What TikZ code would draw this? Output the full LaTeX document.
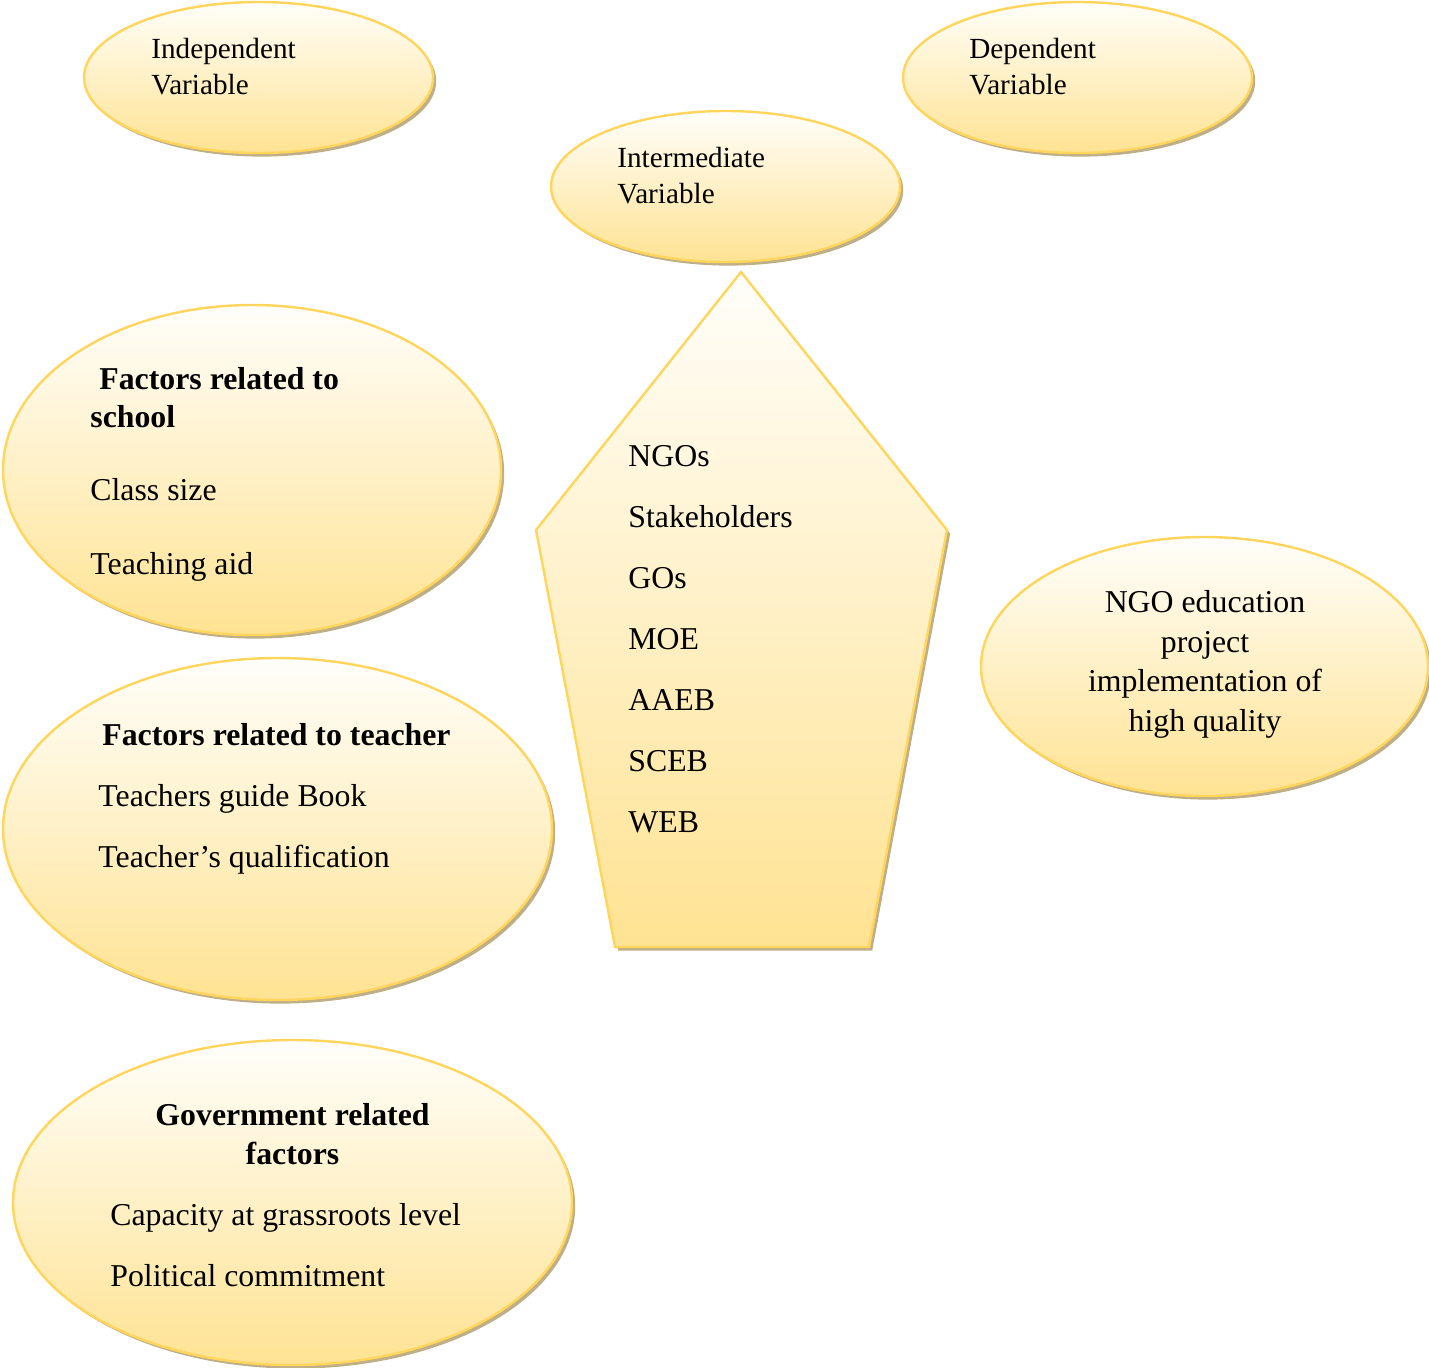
\documentclass[tikz,border=0pt]{standalone}
\usepackage{fontspec}
\setmainfont{Liberation Serif}
\usetikzlibrary{shapes.geometric,shadows}
\definecolor{edgegold}{HTML}{FFD55C}
\definecolor{filltop}{HTML}{FFFEFA}
\definecolor{fillbot}{HTML}{FFE393}
\definecolor{shadowtan}{HTML}{BFAF86}
\tikzset{
  softshadow/.style={drop shadow={shadow xshift=1.6pt, shadow yshift=-1.8pt, fill=shadowtan, opacity=1}},
  goldshape/.style={draw=edgegold, line width=1.2pt, top color=filltop, bottom color=fillbot, softshadow},
  goldoval/.style={goldshape, ellipse, inner sep=0pt},
  small/.style={font=\fontsize{14.6}{17}\selectfont, inner sep=0pt},
  big/.style={font=\fontsize{15.9}{19}\selectfont, inner sep=0pt},
  bigb/.style={font=\fontsize{15.9}{19}\selectfont\bfseries, inner sep=0pt},
}
\begin{document}
\begin{tikzpicture}[x=0.5pt,y=-0.5pt]
\useasboundingbox (0,0) rectangle (1429,1367);
% ovals
\node[goldoval, minimum width=174.5pt, minimum height=75.5pt] (indep) at (258.5,77.5) {};
\node[goldoval, minimum width=174.5pt, minimum height=75.5pt] (dep) at (1077.5,77.5) {};
\node[goldoval, minimum width=174.5pt, minimum height=75.5pt] (inter) at (725.5,186.5) {};
\node[goldoval, minimum width=249pt, minimum height=165pt] (school) at (252,470) {};
\node[goldoval, minimum width=274.5pt, minimum height=171pt] (teacher) at (277.5,829) {};
\node[goldoval, minimum width=279.5pt, minimum height=162.5pt] (gov) at (292.5,1202.5) {};
\node[goldoval, minimum width=223.5pt, minimum height=129.5pt] (ngo) at (1204.5,666.5) {};
% pentagon
\coordinate (pt) at (741,272);
\coordinate (pl) at (536,530);
\coordinate (pbl) at (615,947);
\coordinate (pbr) at (869,947);
\coordinate (pr) at (947,530);
\path[goldshape, line join=miter] (pt) -- (pr) -- (pbr) -- (pbl) -- (pl) -- cycle;
% texts
\node[small, anchor=base west] (indep1) at (151,58) {Independent};
\node[small, anchor=base west] (indep2) at (151,94) {Variable};
\node[small, anchor=base west] (dep1) at (969,58) {Dependent};
\node[small, anchor=base west] (dep2) at (969,94) {Variable};
\node[small, anchor=base west] (inter1) at (617,167) {Intermediate};
\node[small, anchor=base west] (inter2) at (617,203) {Variable};
\node[bigb, anchor=base west] (sch1) at (99,389) {Factors related to};
\node[bigb, anchor=base west] (sch2) at (90,427) {school};
\node[big, anchor=base west] (sch3) at (90,500) {Class size};
\node[big, anchor=base west] (sch4) at (90,574) {Teaching aid};
\node[bigb, anchor=base west] (tea1) at (102,745) {Factors related to teacher};
\node[big, anchor=base west] (tea2) at (98,806) {Teachers guide Book};
\node[big, anchor=base west] (tea3) at (98,867) {Teacher’s qualification};
\node[bigb, anchor=base] (gov1) at (292.5,1125) {Government related};
\node[bigb, anchor=base] (gov2) at (292.5,1164) {factors};
\node[big, anchor=base west] (gov3) at (110,1225) {Capacity at grassroots level};
\node[big, anchor=base west] (gov4) at (110,1286) {Political commitment};
\node[big, anchor=base west] (p1) at (628,466) {NGOs};
\node[big, anchor=base west] (p2) at (628,527) {Stakeholders};
\node[big, anchor=base west] (p3) at (628,588) {GOs};
\node[big, anchor=base west] (p4) at (628,649) {MOE};
\node[big, anchor=base west] (p5) at (628,710) {AAEB};
\node[big, anchor=base west] (p6) at (628,771) {SCEB};
\node[big, anchor=base west] (p7) at (628,832) {WEB};
\node[big, anchor=base] (ngo1) at (1205,612) {NGO education};
\node[big, anchor=base] (ngo2) at (1205,652) {project};
\node[big, anchor=base] (ngo3) at (1205,691) {implementation of};
\node[big, anchor=base] (ngo4) at (1205,731) {high quality};
\end{tikzpicture}
\end{document}
